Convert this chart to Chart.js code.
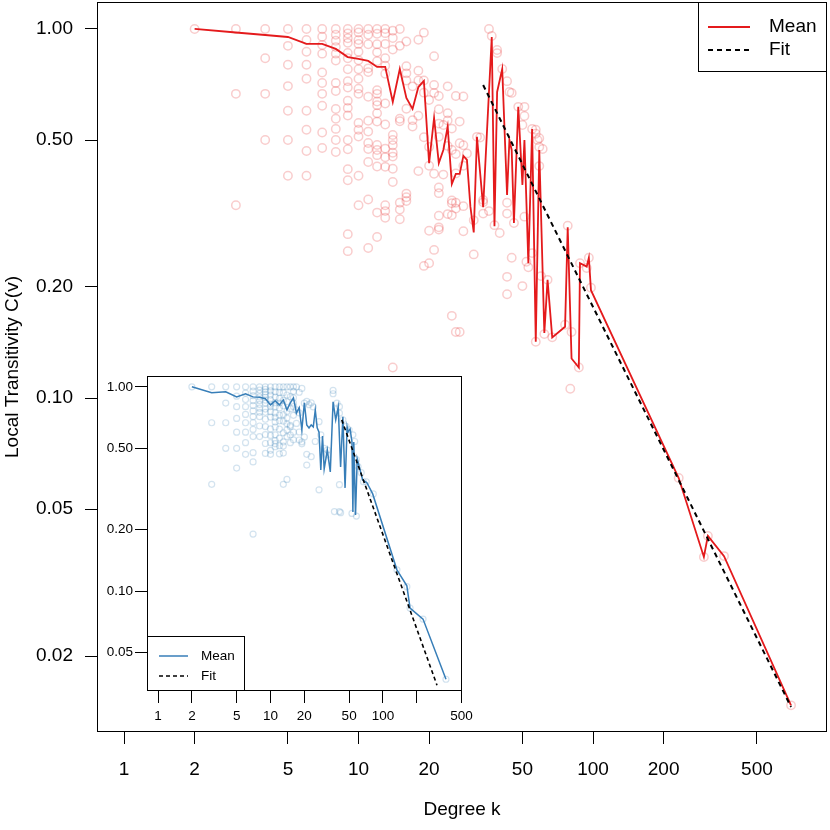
<!DOCTYPE html>
<html lang="en">
<head>
<meta charset="UTF-8">
<title>Local Transitivity vs Degree</title>
<script src="https://cdn.jsdelivr.net/npm/chart.js"></script>
<style>
    body { margin: 0; background: #fff; }
    #wrap { position: relative; width: 830px; height: 830px; }
    #mainChart { position: absolute; left: 0; top: 0; }
    #insetChart { position: absolute; left: 97px; top: 370px; }
</style>
</head>
<body>
<div id="wrap">
    <canvas id="mainChart" width="830" height="830"></canvas>
    <canvas id="insetChart" width="383" height="360"></canvas>
</div>
<script>
    // ---- main network: one entry of values per degree ----
    const mainPtDeg = [2, 3, 4, 5, 6, 7, 8, 9, 10, 11, 12, 13, 14, 15, 16, 17, 18, 19, 20, 21, 22, 23, 24, 25, 26, 27, 28, 29,
        31, 32, 33, 34, 36, 37, 38, 39, 40, 41, 43, 44, 45, 46, 48, 50, 51, 52, 53, 55, 57, 58, 59, 60, 61, 62, 64, 67,
        76, 78, 80, 81, 87, 88, 94, 96, 98, 232, 297, 309, 362, 699];
    const mainPtC = [
        [1],
        [1, .667, .333],
        [1, .833, .667, .5],
        [1, .9, .8, .7, .6, .5, .4],
        [1, .933, .867, .8, .733, .6, .533, .467, .4],
        [1, .952, .905, .857, .762, .714, .667, .619, .524, .476],
        [1, .964, .929, .893, .857, .821, .714, .679, .607, .571, .536, .5, .464],
        [1, .972, .944, .917, .861, .833, .778, .722, .694, .639, .611, .583, .5, .472, .417, .389, .278, .25],
        [1, .978, .933, .911, .867, .822, .778, .733, .689, .667, .556, .533, .511, .4, .333],
        [1, .964, .909, .782, .764, .655, .564, .527, .491, .473, .436, .345, .255],
        [1, .97, .909, .864, .818, .682, .667, .636, .621, .591, .561, .485, .47, .455, .424, .318, .273],
        [1, .974, .91, .833, .795, .756, .628, .551, .474, .449, .423, .333, .321, .308],
        [.989, .945, .879, .516, .5, .484, .462, .451, .418, .385, .121],
        [1, .9, .571, .562, .338, .324, .305],
        [.925, .792, .758, .725, .608, .358, .35, .342],
        [.699, .566, .544],
        [.935, .771, .725, .582, .412],
        [.977, .725, .672, .509, .228],
        [.642, .479, .426, .284, .232],
        [.843, .705, .671, .405, .252],
        [.658, .606, .554, .51, .372, .359, .312, .29, .286],
        [.549, .403],
        [.699, .591, .565, .482, .315],
        [.537, .47, .343, .337, .313, .167],
        [.658, .458, .406, .338, .326, .151],
        [.561, .49, .151],
        [.656, .484, .426, .331, .283],
        [.46],
        [.303, .245],
        [.51],
        [.508],
        [.344, .339, .316],
        [1, .321],
        [.957],
        [.294],
        [.877, .86],
        [.28],
        [.779],
        [.722, .338, .316, .213, .191],
        [.675],
        [.671, .24],
        [.298],
        [.615],
        [.549, .201],
        [.615, .581, .31],
        [.234],
        [.226],
        [.536, .247],
        [.52, .533, .142],
        [.5],
        [.425, .506, .479],
        [.214],
        [.473],
        [.149],
        [.209],
        [.146],
        [.158],
        [.293],
        [.106],
        [.151],
        [.121],
        [.232],
        [.225],
        [.24],
        [.199],
        [.0607],
        [.0371],
        [.0423],
        [.0373],
        [.0147]
    ];
    const mainMeanDeg = [2, 3, 4, 5, 6, 7, 8, 9, 10, 11, 12, 13, 14, 15, 16, 17, 18, 19, 20, 21, 22, 23, 24, 25, 26, 27, 28, 29, 30, 31, 32,
        34, 37, 38, 39, 41, 43, 44, 45, 46, 48, 50, 51, 53, 55, 57, 59, 62, 64, 67, 76, 78, 81, 87, 88, 94, 96, 98,
        232, 297, 309, 362, 699];
    const mainMeanC = [1, .978, .963, .951, .911, .911, .883, .839, .83, .819,
        .789, .789, .634, .779, .65, .607, .696, .723, .433, .574,
        .433, .47, .543, .38, .405, .405, .453, .442, .33, .281, .51,
        .329, .951, .292, .675, .779, .355, .5, .47, .298, .615,
        .378, .5, .232, .536, .142, .47, .15, .209, .146, .156,
        .29, .128, .121, .232, .227, .24, .196,
        .0607, .0371, .0423, .0373, .0147];
    const mainFitDeg = [34, 699];
    const mainFitC = [0.705, 0.01455];

    // ---- inset network ----
    const insetPtDeg = [2, 3, 4, 5, 6, 7, 8, 9, 10, 11, 12, 13, 14, 15, 16, 17, 18, 19, 20, 21, 22, 23, 24, 25,
        27, 28, 30, 32, 36, 37, 39, 41, 42, 44, 47, 50, 53, 54, 56, 58, 60, 64, 67, 71, 82, 133, 163, 174, 227, 363];
    const insetPtC = [
        [1],
        [1, .667, .333],
        [1, .833, .667, .5],
        [1, .9, .8, .7, .6, .5, .4],
        [1, .933, .867, .8, .733, .667, .6, .533, .467],
        [1, .952, .905, .857, .81, .762, .714, .667, .619, .571, .476, .429, .19],
        [1, .964, .929, .893, .857, .821, .786, .75, .714, .643, .571],
        [1, .972, .944, .917, .889, .861, .833, .778, .75, .694, .639, .583, .528, .472],
        [1, .956, .911, .867, .822, .8, .756, .711, .622, .578, .533, .489, .467],
        [1, .945, .891, .836, .8, .745, .709, .673, .636, .582, .545, .527, .509],
        [1, .939, .879, .833, .788, .727, .682, .621, .561, .515, .47],
        [1, .936, .859, .808, .731, .679, .596, .538, .513, .474, .333],
        [1, .912, .846, .758, .703, .659, .615, .571, .352],
        [1, .895, .781, .648, .638, .581, .533],
        [1, .95, .883, .833, .8, .725, .6, .55],
        [1, .772, .662],
        [.941, .745, .601, .549],
        [.982, .538, .526],
        [.832, .568],
        [.848, .467, .414],
        [.818],
        [.834, .455],
        [.797],
        [.54],
        [.675, .313],
        [.582],
        [.5],
        [.49, .464],
        [.96, .925],
        [.245],
        [.832],
        [.8, .743, .332, .245],
        [.242],
        [.69],
        [.64],
        [.616],
        [.24],
        [.582],
        [.54],
        [.44, .233],
        [.407],
        [.38],
        [.343],
        [.343],
        [.299],
        [.127],
        [.105],
        [.0826],
        [.0729],
        [.037]
    ];
    const insetMeanDeg = [2, 3, 4, 5, 6, 7, 8, 9, 10, 11, 12, 13, 14, 15, 16, 17, 18, 19, 20, 21, 22, 23, 24, 25, 26, 27, 28, 29, 30,
        32, 34, 36, 38, 40, 42, 44, 46, 48, 49, 51, 53, 54, 55, 57, 59, 66, 72, 81, 133, 163, 174, 227, 363];
    const insetMeanC = [1, .935, .945, .893, .924, .893, .89, .874, .816, .854,
        .816, .863, .771, .835, .883, .745, .79, .615, .835, .651,
        .629, .651, .637, .77, .63, .6, .392, .575, .396,
        .49, .383, .844, .689, .798, .405, .713, .32, .637, .602, .622,
        .537, .244, .537, .236, .444, .35, .339, .299,
        .127, .106, .0826, .0729, .037];
    const insetFitDeg = [43, 302];
    const insetFitC = [0.689, 0.0346];

    const xTickVals = [1, 2, 5, 10, 20, 50, 100, 200, 500];
    const yTickMain = [0.02, 0.05, 0.1, 0.2, 0.5, 1];
    const yTickInset = [0.05, 0.1, 0.2, 0.5, 1];

    const FONT = "'Liberation Sans', Arial, Helvetica, sans-serif";
    const RED = '#E41A1C';
    const BLUE = '#377EB8';

    function toPoints(degs, vals) {
        const pts = [];
        degs.forEach((k, i) => vals[i].forEach(c => pts.push({ x: k, y: c })));
        return pts;
    }
    function toLine(degs, vals) {
        return degs.map((k, i) => ({ x: k, y: vals[i] }));
    }

    function datasets(ptDeg, ptC, meanDeg, meanC, fitDeg, fitC, ptColor, lineColor, radius) {
        return [{
            data: toPoints(ptDeg, ptC),
            showLine: false,
            pointStyle: 'circle',
            pointRadius: radius,
            pointBorderWidth: radius > 3.5 ? 1.5 : 1.2,
            pointBorderColor: ptColor,
            pointBackgroundColor: 'rgba(0,0,0,0)',
            order: 3
        }, {
            data: toLine(meanDeg, meanC),
            showLine: true,
            borderColor: lineColor,
            borderWidth: radius > 3.5 ? 1.8 : 1.5,
            pointRadius: 0,
            tension: 0,
            order: 2
        }, {
            data: toLine(fitDeg, fitC),
            showLine: true,
            borderColor: '#000',
            borderWidth: radius > 3.5 ? 2 : 1.6,
            borderDash: radius > 3.5 ? [5, 4] : [4, 3],
            pointRadius: 0,
            order: 1
        }];
    }

    function logAxis(min, max, tickVals, size, fitSize, isX, fmt, pad, title) {
        return {
            type: 'logarithmic',
            min: min,
            max: max,
            afterFit: s => {
                if (isX) s.height = fitSize; else s.width = fitSize;
                // no extra room for end labels, plot box is fixed
                s.paddingLeft = s.paddingRight = s.paddingTop = s.paddingBottom = 0;
            },
            afterBuildTicks: s => { s.ticks = tickVals.map(v => ({ value: v })); },
            ticks: {
                autoSkip: false, maxRotation: 0, minRotation: 0,
                padding: pad, color: '#000',
                font: { family: FONT, size: size },
                callback: fmt
            },
            grid: { drawOnChartArea: false, drawTicks: true, tickLength: 12, color: '#000', lineWidth: 1 },
            border: { display: false },
            title: title || { display: false }
        };
    }

    // box around the plot region, white fill for the inset
    const boxPlugin = {
        id: 'box',
        beforeDatasetsDraw(chart, args, opts) {
            if (!opts.fill) return;
            const a = chart.chartArea;
            chart.ctx.save();
            chart.ctx.fillStyle = '#fff';
            chart.ctx.fillRect(a.left, a.top, a.right - a.left, a.bottom - a.top);
            chart.ctx.restore();
        },
        afterDraw(chart) {
            const a = chart.chartArea, ctx = chart.ctx;
            ctx.save();
            ctx.strokeStyle = '#000';
            ctx.lineWidth = 1;
            ctx.strokeRect(a.left + 0.5, a.top + 0.5, a.right - a.left - 1, a.bottom - a.top - 1);
            ctx.restore();
        }
    };

    // R style legend box
    const legendBox = {
        id: 'legendBox',
        afterDraw(chart, args, o) {
            const ctx = chart.ctx;
            ctx.save();
            ctx.fillStyle = '#fff';
            ctx.fillRect(o.x, o.y, o.w, o.h);
            ctx.strokeStyle = '#000';
            ctx.lineWidth = 1;
            ctx.strokeRect(o.x + 0.5, o.y + 0.5, o.w - 1, o.h - 1);
            o.items.forEach((it, i) => {
                const y = o.rows[i];
                ctx.beginPath();
                ctx.setLineDash(it.dash || []);
                ctx.strokeStyle = it.color;
                ctx.lineWidth = it.width;
                ctx.moveTo(o.lx1, y);
                ctx.lineTo(o.lx2, y);
                ctx.stroke();
                ctx.setLineDash([]);
                ctx.fillStyle = '#000';
                ctx.font = o.size + 'px ' + FONT;
                ctx.textBaseline = 'middle';
                ctx.textAlign = 'left';
                ctx.fillText(it.label, o.tx, y);
            });
            ctx.restore();
        }
    };

    new Chart(document.getElementById('mainChart'), {
        type: 'scatter',
        data: {
            datasets: datasets(mainPtDeg, mainPtC, mainMeanDeg, mainMeanC, mainFitDeg, mainFitC,
                'rgba(228,26,28,0.22)', RED, 4.2)
        },
        options: {
            responsive: false,
            animation: false,
            layout: { autoPadding: false, padding: { top: 2, right: 3, left: 0, bottom: 0 } },
            plugins: {
                legend: { display: false },
                tooltip: { enabled: false },
                box: { fill: false },
                legendBox: {
                    x: 698, y: 2, w: 129, h: 70, lx1: 708, lx2: 750, tx: 769, size: 19,
                    rows: [27, 50],
                    items: [
                        { label: 'Mean', color: RED, width: 1.8 },
                        { label: 'Fit', color: '#000', width: 2, dash: [5, 4] }
                    ]
                }
            },
            scales: {
                x: logAxis(0.767, 995, xTickVals, 19, 98, true, v => String(v), 14,
                    { display: true, text: 'Degree k', color: '#000', font: { family: FONT, size: 19 }, padding: { top: 0, bottom: 9 } }),
                y: logAxis(0.01245, 1.183, yTickMain, 19, 97, false, v => Number(v).toFixed(2), 12,
                    { display: true, text: 'Local Transitivity C(v)', color: '#000', font: { family: FONT, size: 19 }, padding: { top: 1, bottom: 0 } })
            }
        },
        plugins: [boxPlugin, legendBox]
    });

    new Chart(document.getElementById('insetChart'), {
        type: 'scatter',
        data: {
            datasets: datasets(insetPtDeg, insetPtC, insetMeanDeg, insetMeanC, insetFitDeg, insetFitC,
                'rgba(55,126,184,0.22)', BLUE, 3)
        },
        options: {
            responsive: false,
            animation: false,
            layout: { autoPadding: false, padding: { top: 6, right: 18, left: 0, bottom: 0 } },
            plugins: {
                legend: { display: false },
                tooltip: { enabled: false },
                box: { fill: true },
                legendBox: {
                    x: 50, y: 266, w: 98, h: 55, lx1: 62, lx2: 91, tx: 104, size: 13.5,
                    rows: [286, 306],
                    items: [
                        { label: 'Mean', color: BLUE, width: 1.5 },
                        { label: 'Fit', color: '#000', width: 1.5, dash: [4, 3] }
                    ]
                }
            },
            scales: {
                x: logAxis(0.798, 504, xTickVals, 13.5, 39, true, v => (v === 200 ? '' : String(v)), 5),
                y: logAxis(0.0324, 1.13, yTickInset, 13.5, 50, false, v => Number(v).toFixed(2), 2)
            }
        },
        plugins: [boxPlugin, legendBox]
    });
</script>
</body>
</html>
